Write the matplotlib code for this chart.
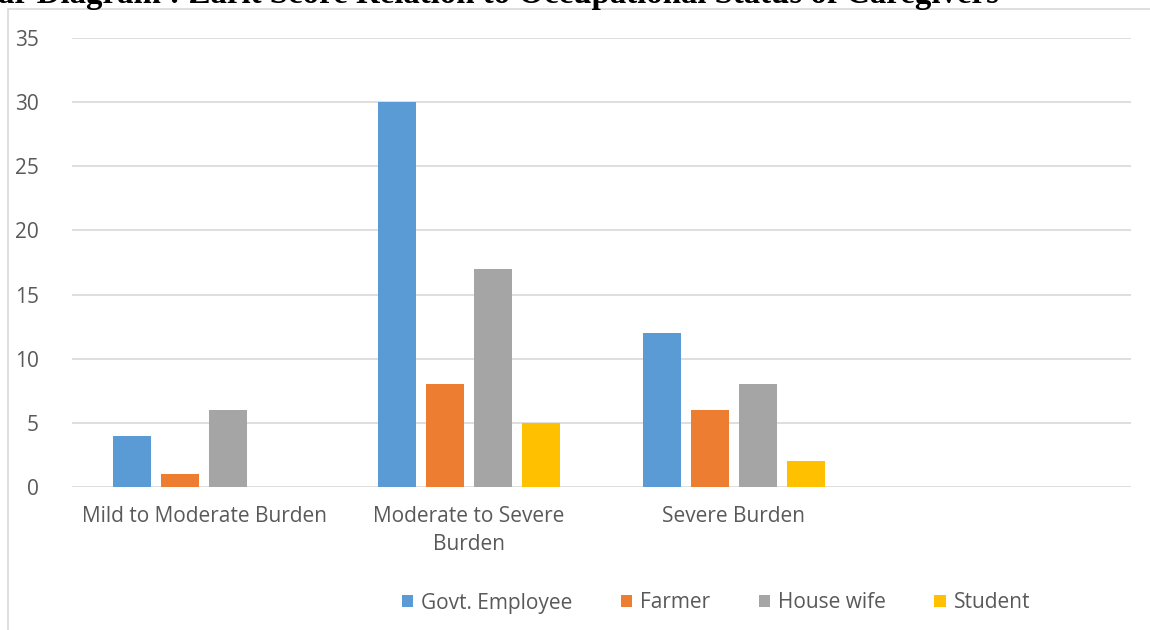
import matplotlib
matplotlib.use('agg')
import matplotlib.pyplot as plt
import numpy as np
from matplotlib.patches import Rectangle

categories = ["Mild to Moderate Burden", "Moderate to Severe\nBurden", "Severe Burden", ""]
series = ["Govt. Employee", "Farmer", "House wife", "Student"]
govt = [4, 30, 12, 0]
farmer = [1, 8, 6, 0]
housewife = [6, 17, 8, 0]
student = [0, 5, 2, 0]
colors = ["#5b9bd5", "#ed7d31", "#a5a5a5", "#ffc000"]

W, H = 1150, 630
fig = plt.figure(figsize=(W / 100, H / 100), dpi=100)
ax = fig.add_axes([72 / W, 1 - 487 / H, (1131 - 72) / W, (487 - 38) / H])

# chart border
fig.patches.append(Rectangle((8 / W, -0.05), 1.2, 1 - 9 / H + 0.05,
                             transform=fig.transFigure, fill=False,
                             edgecolor="#d9d9d9", lw=1.2))

x = np.arange(len(categories))
bw = 0.1435
step = 0.181
for i, (vals, lab) in enumerate(zip([govt, farmer, housewife, student], series)):
    ax.bar(x + (i - 1.5) * step, vals, bw, color=colors[i], label=lab, zorder=3)

ax.set_xlim(-0.5, len(categories) - 0.5)
ax.set_ylim(0, 35)
ax.set_yticks(range(0, 36, 5))
ax.grid(axis="y", color="#d9d9d9", lw=1.2, zorder=0)
for s in ax.spines.values():
    s.set_visible(False)
ax.tick_params(length=0, labelsize=15, labelcolor="#595959")
ax.tick_params(axis="y", pad=24)
ax.tick_params(axis="x", pad=14)
ax.set_xticks(x)
ax.set_xticklabels(categories, fontfamily="Open Sans", linespacing=1.4)
for t in ax.get_yticklabels():
    t.set_fontfamily("Open Sans")
    t.set_ha("right")

leg = fig.legend(loc="center", bbox_to_anchor=(716 / W, 1 - 603 / H), ncol=4,
                 frameon=False, handlelength=0.55, handleheight=0.55,
                 handletextpad=0.4, columnspacing=2.3,
                 prop={"family": "Open Sans", "size": 15})
for t in leg.get_texts():
    t.set_color("#595959")

# title is cropped at the top edge in the source image
fig.text(-0.002, 1 - 3 / H,
         "ar Diagram : Zarit Score Relation to Occupational Status of Caregivers",
         fontfamily="Liberation Serif", fontweight="bold", fontsize=23.7,
         va="baseline", ha="left")

fig.savefig("out.png", dpi=100)
